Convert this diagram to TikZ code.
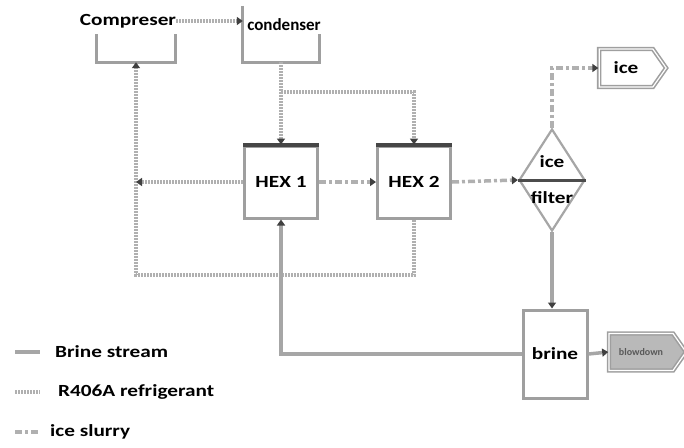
\documentclass[tikz,border=0pt]{standalone}
\usepackage{fontspec}
\setmainfont{Carlito}
\newfontfamily\widefont{Carlito}[FakeStretch=1.25]
\usetikzlibrary{shapes.geometric,shapes.symbols,arrows.meta}

\begin{document}
\begin{tikzpicture}[x=1pt, y=-1pt]
  \tikzstyle{unit}=[rectangle, draw=gray!75, line width=3pt, fill=white, inner sep=0pt, font=\widefont\bfseries\fontsize{17}{20}\selectfont]
  \tikzstyle{openbox}=[rectangle, minimum width=78pt, minimum height=56pt, inner sep=0pt]
  \tikzstyle{wall}=[draw=gray!75, line width=3pt]
  \tikzstyle{topbar}=[draw=gray!55!black, line width=4pt]
  \tikzstyle{txt}=[inner sep=0pt, font=\widefont\bfseries\fontsize{17}{20}\selectfont]
  \tikzstyle{tagbox}=[signal, signal to=east, signal pointer angle=110, draw=gray!75, double=white, double distance=1.2pt, line width=1.6pt, inner sep=0pt]
  \tikzstyle{brine}=[draw=gray!70, line width=3.5pt]
  \tikzstyle{refr}=[draw=gray!62, line width=3.5pt, dash pattern=on 2pt off 1pt]
  \tikzstyle{slurry}=[draw=gray!62, line width=3.5pt, dash pattern=on 7pt off 3pt on 3pt off 3pt]
  \tikzstyle{tip}=[-{Triangle[length=6pt, width=8pt, color=black!75]}]
  \useasboundingbox (0,0) rectangle (684,447);

  % compressor and condenser
  \node[openbox] (comp) at (136,34) {};
  \draw[wall] (comp.west) -- (comp.south west) -- (comp.south east) -- (comp.east);
  \node[txt] (comptxt) at (128,21) {Compreser};
  \node[openbox, minimum width=76pt] (cond) at (281,34) {};
  \draw[wall] (cond.north west) -- (cond.south west) -- (cond.south east) -- (cond.east);
  \node[inner sep=0pt, font=\bfseries\fontsize{17}{20}\selectfont] (condtxt) at (284,25) {condenser};

  % heat exchangers
  \node[unit, minimum width=73pt, minimum height=72pt] (hex1) at (281,182) {HEX 1};
  \node[unit, minimum width=73pt, minimum height=72pt] (hex2) at (414,182) {HEX 2};
  \draw[topbar] (hex1.north west) -- (hex1.north east);
  \draw[topbar] (hex2.north west) -- (hex2.north east);

  % filter and outlets
  \node[diamond, draw=gray!70, line width=2.2pt, fill=white, minimum width=66pt, minimum height=102pt, inner sep=0pt] (filter) at (552,180) {};
  \draw[line width=3pt, gray!60!black] (filter.west) -- (filter.east);
  \node[txt] (icetxt) at (552,162) {ice};
  \node[txt] (filtertxt) at (552,198) {filter};
  \node[tagbox, minimum width=67pt, minimum height=38pt, font=\widefont\bfseries\fontsize{17}{20}\selectfont] (ice) at (626,68) {ice};
  \node[unit, minimum width=64pt, minimum height=88pt] (brine) at (555,354) {brine};
  \node[tagbox, minimum width=77pt, minimum height=37pt, fill=gray!55, font=\bfseries\fontsize{10}{12}\selectfont, text=black!65] (blow) at (641,352) {blowdown};

  % refrigerant loop
  \draw[refr, tip] (comptxt.east) -- (comptxt.east -| cond.west);
  \draw[refr, tip] (cond.south) -- (hex1.north);
  \coordinate (split) at (281,92);
  \draw[refr, tip] (split) -| (hex2.north);
  \coordinate (lowleft) at (136,275);
  \draw[refr, tip] (hex2.south) |- (lowleft) -- (comp.south);
  \draw[refr, tip] (hex1.west) -- (hex1.west -| comp.south);

  % ice slurry
  \draw[slurry, tip] (hex1.east) -- (hex2.west);
  \draw[slurry, tip] (hex2.east) -- (filter.west);
  \draw[slurry, tip] (filter.north) |- (ice.west);

  % brine
  \draw[brine, tip] (filter.south) -- (filter.south |- brine.north);
  \draw[brine, tip] (brine.west) -| (hex1.south);
  \draw[brine, tip] (brine.east) -- (blow.west);

  % legend
  \node[txt, anchor=west] (lgbrine) at (55,352) {Brine stream};
  \node[txt, anchor=west] (lgrefr) at (58,392) {R406A refrigerant};
  \node[txt, anchor=west] (lgslurry) at (50,432) {ice slurry};
  \draw[brine] (15,352) -- ([xshift=-15pt]lgbrine.west);
  \draw[refr] (15,392) -- ([xshift=-18pt]lgrefr.west);
  \draw[slurry] (15,432) -- ([xshift=-12pt]lgslurry.west);
\end{tikzpicture}
\end{document}
